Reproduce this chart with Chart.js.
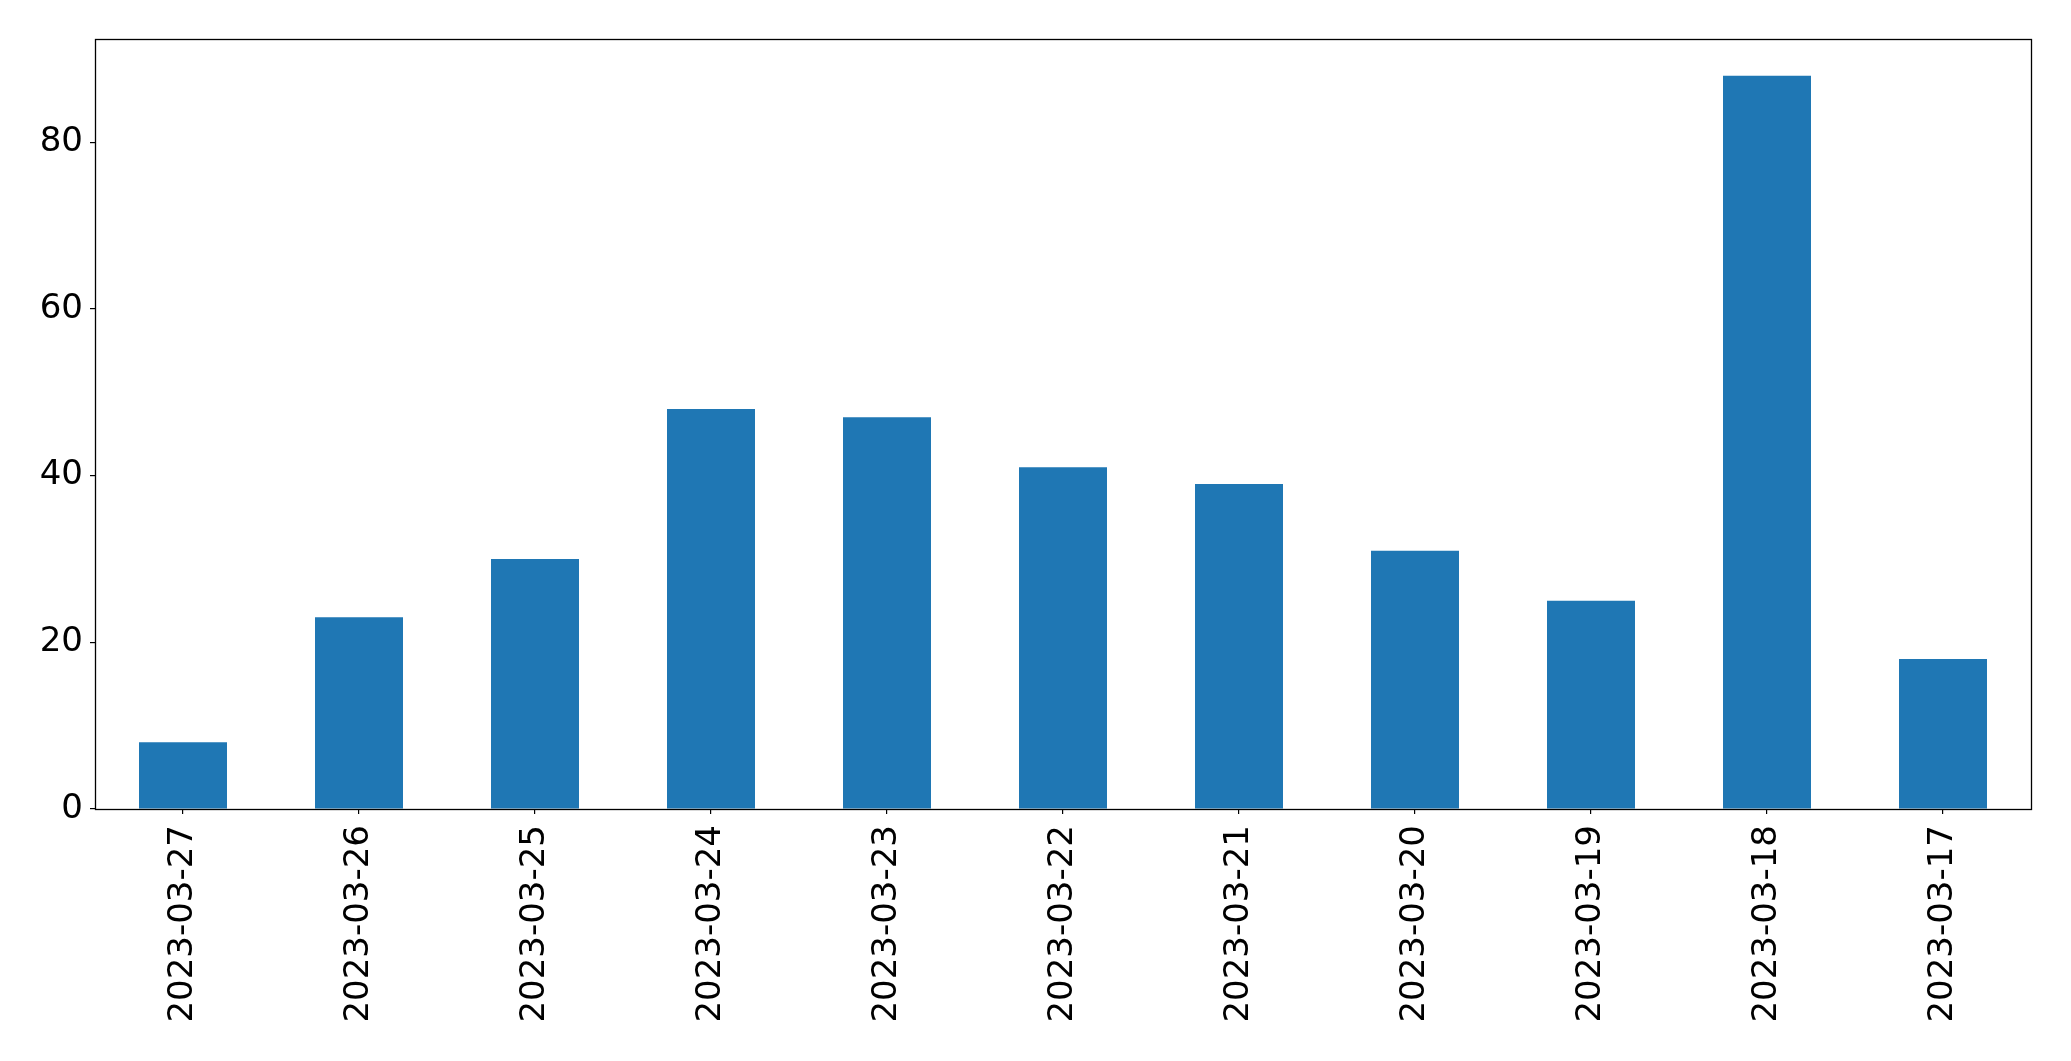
<!DOCTYPE html>
<html>
<head>
<meta charset="utf-8">
<script src="https://cdn.jsdelivr.net/npm/chart.js@4"></script>
<style>
  html, body { margin: 0; padding: 0; background: #fff; }
  #chart { display: block; }
</style>
</head>
<body>
<canvas id="chart" width="2071" height="1061"></canvas>
<script>
const dates = ['2023-03-27', '2023-03-26', '2023-03-25', '2023-03-24', '2023-03-23', '2023-03-22',
  '2023-03-21', '2023-03-20', '2023-03-19', '2023-03-18', '2023-03-17'];
const counts = [8, 23, 30, 48, 47, 41, 39, 31, 25, 88, 18];
const yTicks = [0, 20, 40, 60, 80];
const yMax = 92.4;

// matplotlib style box round the plot area
const frame = {
  id: 'frame',
  afterDraw(chart) {
    const {ctx, chartArea: a} = chart;
    const l = Math.round(a.left) + 0.5, t = Math.round(a.top) + 0.5;
    const r = Math.round(a.right) + 0.5, b = Math.round(a.bottom) + 0.5;
    ctx.save();
    ctx.strokeStyle = '#000';
    ctx.lineWidth = 1.3;
    ctx.strokeRect(l, t, r - l, b - t);
    ctx.restore();
  }
};

document.addEventListener('DOMContentLoaded', () => {
  const font = {family: 'DejaVu Sans', size: 34};
  new Chart(document.getElementById('chart'), {
    type: 'bar',
    data: {
      labels: dates,
      datasets: [{
        data: counts,
        backgroundColor: '#1f77b4',
        borderWidth: 0,
        categoryPercentage: 1,
        barPercentage: 0.5
      }]
    },
    options: {
      responsive: false,
      animation: false,
      layout: {padding: {left: 0, right: 40, top: 39, bottom: 0}},
      plugins: {legend: {display: false}, tooltip: {enabled: false}},
      scales: {
        x: {
          grid: {display: true, drawOnChartArea: false, offset: false, tickLength: 5, tickColor: '#000', lineWidth: 1.2},
          border: {display: false},
          ticks: {color: '#000', font, maxRotation: 90, minRotation: 90, padding: 11, autoSkip: false},
          afterFit(s) { s.height = 252; }
        },
        y: {
          min: 0,
          max: yMax,
          grid: {display: true, drawOnChartArea: false, tickLength: 5, tickColor: '#000', lineWidth: 1.2},
          border: {display: false},
          ticks: {color: '#000', font, padding: 7},
          afterBuildTicks(s) { s.ticks = yTicks.map(v => ({value: v})); },
          afterFit(s) { s.width = 95; }
        }
      }
    },
    plugins: [frame]
  });
});
</script>
</body>
</html>
